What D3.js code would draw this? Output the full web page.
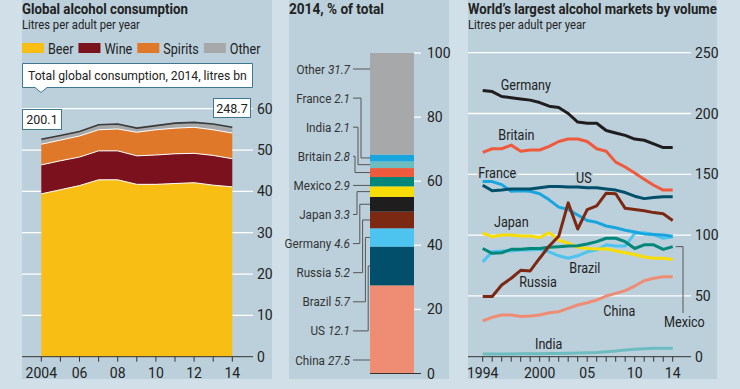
<!DOCTYPE html>
<html lang="en">
<head>
<meta charset="UTF-8">
<title>Alcohol consumption</title>
<style>
  body { margin: 0; background: #d1e0e8; }
  svg { display: block; }
  text { font-family: Roboto, "Noto Sans", sans-serif; fill: #222; }
  .title { font-weight: bold; font-size: 15px; }
  .sub { font-size: 12.5px; }
  .tick { font-size: 14px; }
  .lab { font-size: 14px; }
</style>
</head>
<body>
<script src="https://cdnjs.cloudflare.com/ajax/libs/d3/7.8.5/d3.min.js"></script>
<script>
// ---- data ----
const globalYears = [2004, 2005, 2006, 2007, 2008, 2009, 2010, 2011, 2012, 2013, 2014];
const beer    = [39.4, 40.4, 41.4, 42.8, 42.8, 41.7, 41.7, 41.9, 42.1, 41.5, 41.1];
const wine    = [7.0, 7.0, 6.9, 7.0, 7.0, 6.9, 7.1, 7.2, 7.1, 7.2, 6.8];
const spirits = [5.0, 5.0, 5.1, 5.1, 5.3, 5.7, 6.1, 6.2, 6.3, 6.2, 6.2];
const other   = [1.2, 1.1, 1.1, 1.2, 1.2, 1.0, 1.0, 1.2, 1.2, 1.4, 1.4];
const drinkTypes = ["Beer", "Wine", "Spirits", "Other"];
const globalTicks = [0, 10, 20, 30, 40, 50, 60];
const globalYearLabels = ["2004", "06", "08", "10", "12", "14"];
const totalFirst = "200.1";
const totalLast = "248.7";

const shareCountries = ["China", "US", "Brazil", "Russia", "Germany", "Japan", "Mexico", "Britain", "India", "France", "Other"];
const shareValues    = [27.5, 12.1, 5.7, 5.2, 4.6, 3.3, 2.9, 2.8, 2.1, 2.1, 31.7];
const shareTicks = [0, 20, 40, 60, 80, 100];

const marketYears = [1994, 1995, 1996, 1997, 1998, 1999, 2000, 2001, 2002, 2003, 2004,
                     2005, 2006, 2007, 2008, 2009, 2010, 2011, 2012, 2013, 2014];
const germany = [219, 218, 214, 213, 212, 211, 209, 206, 205, 200, 193, 192, 192, 186, 184, 182, 179, 178, 175, 172, 172];
const britain = [168, 171, 171, 174, 169, 170, 170, 173, 177, 179, 179, 177, 171, 169, 160, 156, 151, 146, 141, 137, 137];
const us      = [141, 136.5, 137, 138, 138, 138, 139, 140, 140, 139.5, 139.5, 139, 139, 138, 137, 135, 132, 130, 131, 131.5, 131.5];
const france  = [144, 144, 141.5, 136, 136.5, 136, 134, 129, 123, 121, 116.5, 112, 110.5, 107.5, 106, 104, 102.5, 101, 100.5, 100, 99];
const russia  = [49.5, 49.5, 59, 64.5, 71, 70.5, 81, 91, 99, 126.5, 105, 121, 124, 134.5, 134, 122, 121, 120, 118.5, 117.5, 112];
const japan   = [101.5, 98.7, 100, 100, 99.3, 99.3, 98, 102, 96, 93.3, 90, 89, 88.6, 88.8, 87, 85.5, 84, 82, 81, 81, 80];
const mexico  = [89, 85, 85.5, 88.3, 88.3, 89, 89, 90, 90.5, 91, 91.3, 92.7, 94.6, 97.4, 97.4, 94.6, 89, 92, 92, 88.3, 90.5];
const brazil  = [78, 86.3, 87, 87, 87.7, 87.7, 88.3, 86.3, 83, 81, 83, 86.3, 87.7, 92, 91, 91, 101.5, 102, 100.5, 97.4, 98.7];
const china   = [29.4, 32.4, 34.3, 34.3, 33, 33.5, 34.3, 36.2, 37, 39.8, 42.5, 44.4, 46.6, 49.9, 52.1, 54.3, 58.1, 62.5, 64.5, 65.8, 65.8];
const india   = [2.2, 2.2, 2.3, 2.3, 2.4, 2.4, 2.5, 2.6, 2.7, 2.8, 3.0, 3.2, 3.5, 4.0, 4.6, 5.5, 6.2, 6.6, 6.9, 7.0, 7.0];
const marketTicks = [0, 50, 100, 150, 200, 250];
const marketYearLabels = [[1994, "1994"], [2000, "2000"], [2005, "05"], [2010, "10"], [2014, "14"]];

// ---- styles ----
const W = 740, H = 389;
const panelFill = "#bcd0dc";
const drinkColors = { Beer: "#f9be14", Wine: "#7a111c", Spirits: "#e07829", Other: "#a7a8aa" };
const countryColors = {
  China: "#ef8d74", US: "#014f6a", Brazil: "#4cc4ef", Russia: "#7c2914", Germany: "#1f1d1e",
  Japan: "#f8dc05", Mexico: "#00877a", Britain: "#f05a3c", India: "#6dbcbf", France: "#19a6df",
  Other: "#a7a8aa"
};

// squash a text horizontally (stands in for a condensed face).
// text is placed at (x,y) and scaled so its width becomes w, or by factor f
function condense(sel, x, y, opts) {
  sel.each(function () {
    const n = this.getComputedTextLength();
    const k = opts.w ? opts.w / n : opts.f;
    d3.select(this).attr("x", null).attr("y", null)
      .attr("transform", `translate(${x},${y}) scale(${k},1)`);
  });
  return sel;
}

const svg = d3.select("body").append("svg").attr("width", W).attr("height", H);
svg.append("rect").attr("width", W).attr("height", H).attr("fill", "#d1e0e8");

const panels = [[22, 272], [289, 449], [468, 717]];
panels.forEach(p => {
  svg.append("rect").attr("x", p[0]).attr("y", 0).attr("width", p[1] - p[0]).attr("height", 379).attr("fill", panelFill);
});

// ================= left: stacked area =================
const left = svg.append("g");
condense(left.append("text").attr("class", "title").text("Global alcohol consumption"), 22, 14, { w: 166 });
condense(left.append("text").attr("class", "sub").text("Litres per adult per year"), 22, 29, { w: 118 });

const lx = d3.scaleLinear().domain([2004, 2014]).range([41.3, 232.3]);
const ly = d3.scaleLinear().domain([0, 60]).range([356.7, 108.7]);

// legend
let legX = 22;
drinkTypes.forEach(k => {
  left.append("rect").attr("x", legX).attr("y", 43).attr("width", 22).attr("height", 10).attr("fill", drinkColors[k]);
  const t = condense(left.append("text").attr("class", "lab").text(k), legX + 26, 53.5, { f: 0.9 });
  legX += 26 + t.node().getComputedTextLength() * 0.9 + 5;
});

left.selectAll(".grid").data(globalTicks.filter(d => d > 0)).join("line")
  .attr("x1", 22).attr("x2", 253).attr("y1", d => ly(d)).attr("y2", d => ly(d))
  .attr("stroke", "#fff").attr("stroke-width", 1.3);

const table = globalYears.map((yr, i) => ({ year: yr, Beer: beer[i], Wine: wine[i], Spirits: spirits[i], Other: other[i] }));
const stack = d3.stack().keys(drinkTypes)(table);
const area = d3.area().x(d => lx(d.data.year)).y0(d => ly(d[0])).y1(d => ly(d[1]));
const topLine = d3.line().x(d => lx(d.data.year)).y(d => ly(d[1]));

left.selectAll(".layer").data(stack).join("path").attr("d", area).attr("fill", d => drinkColors[d.key]);
left.selectAll(".sep").data(stack.slice(0, 3)).join("path").attr("d", topLine)
  .attr("fill", "none").attr("stroke", "#fff").attr("stroke-width", 1);
left.append("path").datum(stack[3]).attr("d", topLine)
  .attr("fill", "none").attr("stroke", "#3a3a3a").attr("stroke-width", 1.6);

// axis
left.append("line").attr("x1", 22).attr("x2", 253).attr("y1", ly(0)).attr("y2", ly(0)).attr("stroke", "#333").attr("stroke-width", 1);
left.selectAll(".xt").data(globalYears).join("line")
  .attr("x1", d => lx(d)).attr("x2", d => lx(d)).attr("y1", ly(0)).attr("y2", ly(0) + 5)
  .attr("stroke", "#333").attr("stroke-width", 1);
left.selectAll(".xl").data(globalYearLabels).join("text").attr("class", "tick")
  .attr("x", (d, i) => lx(2004 + i * 2)).attr("y", 378).attr("text-anchor", "middle").text(d => d);
left.selectAll(".yl").data(globalTicks).join("text").attr("class", "tick")
  .attr("x", 257).attr("y", d => ly(d) + 5).text(d => d);

// callouts
left.append("path").attr("d", "M22.5,63.5H252.5V87.5H47L41,92.5L35,87.5H22.5Z")
  .attr("fill", "#fff").attr("stroke", "#3e7790").attr("stroke-width", 1);
condense(left.append("text").attr("class", "sub").text("Total global consumption, 2014, litres bn"), 28, 80, { w: 219 });
function valueBox(x, y, w, h, txt) {
  left.append("rect").attr("x", x).attr("y", y).attr("width", w).attr("height", h)
    .attr("fill", "#fff").attr("stroke", "#3e7790").attr("stroke-width", 1);
  left.append("text").attr("class", "sub").attr("x", x + w / 2).attr("y", y + h / 2 + 4.5)
    .attr("text-anchor", "middle").text(txt);
}
valueBox(22.5, 109.5, 39, 20, totalFirst);
valueBox(213.5, 98.5, 37, 19, totalLast);

// ================= middle: share bar =================
const mid = svg.append("g");
condense(mid.append("text").attr("class", "title").text("2014, % of total"), 289, 14, { w: 95 });
const my = d3.scaleLinear().domain([0, 100]).range([373.5, 53]);
const shareStack = d3.stack().keys(shareCountries)([Object.fromEntries(shareCountries.map((c, i) => [c, shareValues[i]]))]);

mid.selectAll(".seg").data(shareStack).join("rect")
  .attr("x", 370).attr("width", 44)
  .attr("y", d => my(d[0][1])).attr("height", d => my(d[0][0]) - my(d[0][1]))
  .attr("fill", d => countryColors[d.key]);

mid.selectAll(".mt").data(shareTicks.filter(d => d > 0)).join("line")
  .attr("x1", 414).attr("x2", 421).attr("y1", d => my(d)).attr("y2", d => my(d))
  .attr("stroke", "#fff").attr("stroke-width", 1.3);
mid.append("line").attr("x1", 370).attr("x2", 421).attr("y1", my(0)).attr("y2", my(0)).attr("stroke", "#333");
mid.selectAll(".ml").data(shareTicks).join("text").attr("class", "tick")
  .attr("x", 427).attr("y", d => my(d) + 5).text(d => d);

const labelY = d3.scalePoint().domain(shareCountries).range([360, 69]);
const above = [], below = [];
shareStack.forEach(s => {
  const ty = labelY(s.key), top = my(s[0][1]), bot = my(s[0][0]);
  const item = { key: s.key, ty, mid: (top + bot) / 2 };
  if (ty >= top && ty <= bot) item.straight = true;
  else if (ty < top) above.push(item);
  else below.push(item);
  s.item = item;
});
above.sort((a, b) => a.ty - b.ty).forEach((d, j) => d.ex = 355 + (above.length - 1 - j) * 3);
below.sort((a, b) => a.ty - b.ty).forEach((d, j) => d.ex = 357 + j * 2.8);

shareStack.forEach((s, i) => {
  const it = s.item;
  const path = it.straight
    ? `M353,${it.ty}H370`
    : `M353,${it.ty}H${it.ex}V${it.mid}H370`;
  mid.append("path").attr("d", path).attr("fill", "none").attr("stroke", "#555").attr("stroke-width", 1);
  const t = mid.append("text").attr("text-anchor", "end")
    .style("font-size", "13px").style("fill", "#333");
  t.append("tspan").text(s.key + " ");
  t.append("tspan").style("font-style", "italic").text(shareValues[i]);
  condense(t, 350, it.ty + 4.5, { f: 0.9 });
});

// ================= right: lines =================
const right = svg.append("g");
condense(right.append("text").attr("class", "title").text("World\u2019s largest alcohol markets by volume"), 468, 14, { w: 249 });
condense(right.append("text").attr("class", "sub").text("Litres per adult per year"), 468, 29, { w: 118 });

const rx = d3.scaleLinear().domain([1994, 2014]).range([482.7, 672.7]);
const ry = d3.scaleLinear().domain([0, 250]).range([356.7, 52.7]);

right.selectAll(".rg").data(marketTicks.filter(d => d > 0)).join("line")
  .attr("x1", 468).attr("x2", 691).attr("y1", d => ry(d)).attr("y2", d => ry(d))
  .attr("stroke", "#fff").attr("stroke-width", 1.3);

const series = [
  ["India", india], ["China", china], ["Brazil", brazil], ["Japan", japan], ["Mexico", mexico],
  ["France", france], ["US", us], ["Russia", russia], ["Britain", britain], ["Germany", germany]
];
const line = d3.line().x((d, i) => rx(marketYears[i])).y(d => ry(d));
right.selectAll(".ser").data(series).join("path")
  .attr("d", d => line(d[1])).attr("fill", "none")
  .attr("stroke", d => countryColors[d[0]]).attr("stroke-width", 3)
  .attr("stroke-linejoin", "round");

right.append("line").attr("x1", 468).attr("x2", 691).attr("y1", ry(0)).attr("y2", ry(0)).attr("stroke", "#333");
right.selectAll(".rxt").data(marketYears).join("line")
  .attr("x1", d => rx(d)).attr("x2", d => rx(d)).attr("y1", ry(0)).attr("y2", ry(0) + 5)
  .attr("stroke", "#333");
right.selectAll(".rxl").data(marketYearLabels).join("text").attr("class", "tick")
  .attr("x", d => rx(d[0])).attr("y", 378).attr("text-anchor", "middle").text(d => d[1]);
right.selectAll(".ryl").data(marketTicks).join("text").attr("class", "tick")
  .attr("x", 695).attr("y", d => ry(d) + 5).text(d => d);

// Mexico leader
right.append("path")
  .attr("d", `M${rx(2014) + 3},${ry(mexico[20])}H683V313`)
  .attr("fill", "none").attr("stroke", "#555").attr("stroke-width", 1);

const seriesLabels = [
  ["Germany", 500.7, 90], ["Britain", 498.3, 140], ["France", 478.3, 178], ["US", 576, 182.5],
  ["Japan", 494, 227], ["Brazil", 569.3, 273], ["Russia", 519.3, 286.5], ["China", 603.3, 316],
  ["India", 535, 349], ["Mexico", 664, 326.5]
];
seriesLabels.forEach(d => {
  const t = right.append("text").attr("class", "lab").text(d[0])
    .attr("stroke", panelFill).attr("stroke-width", 4).attr("paint-order", "stroke");
  condense(t, d[1], d[2], { f: 0.9 });
});
</script>
</body>
</html>
